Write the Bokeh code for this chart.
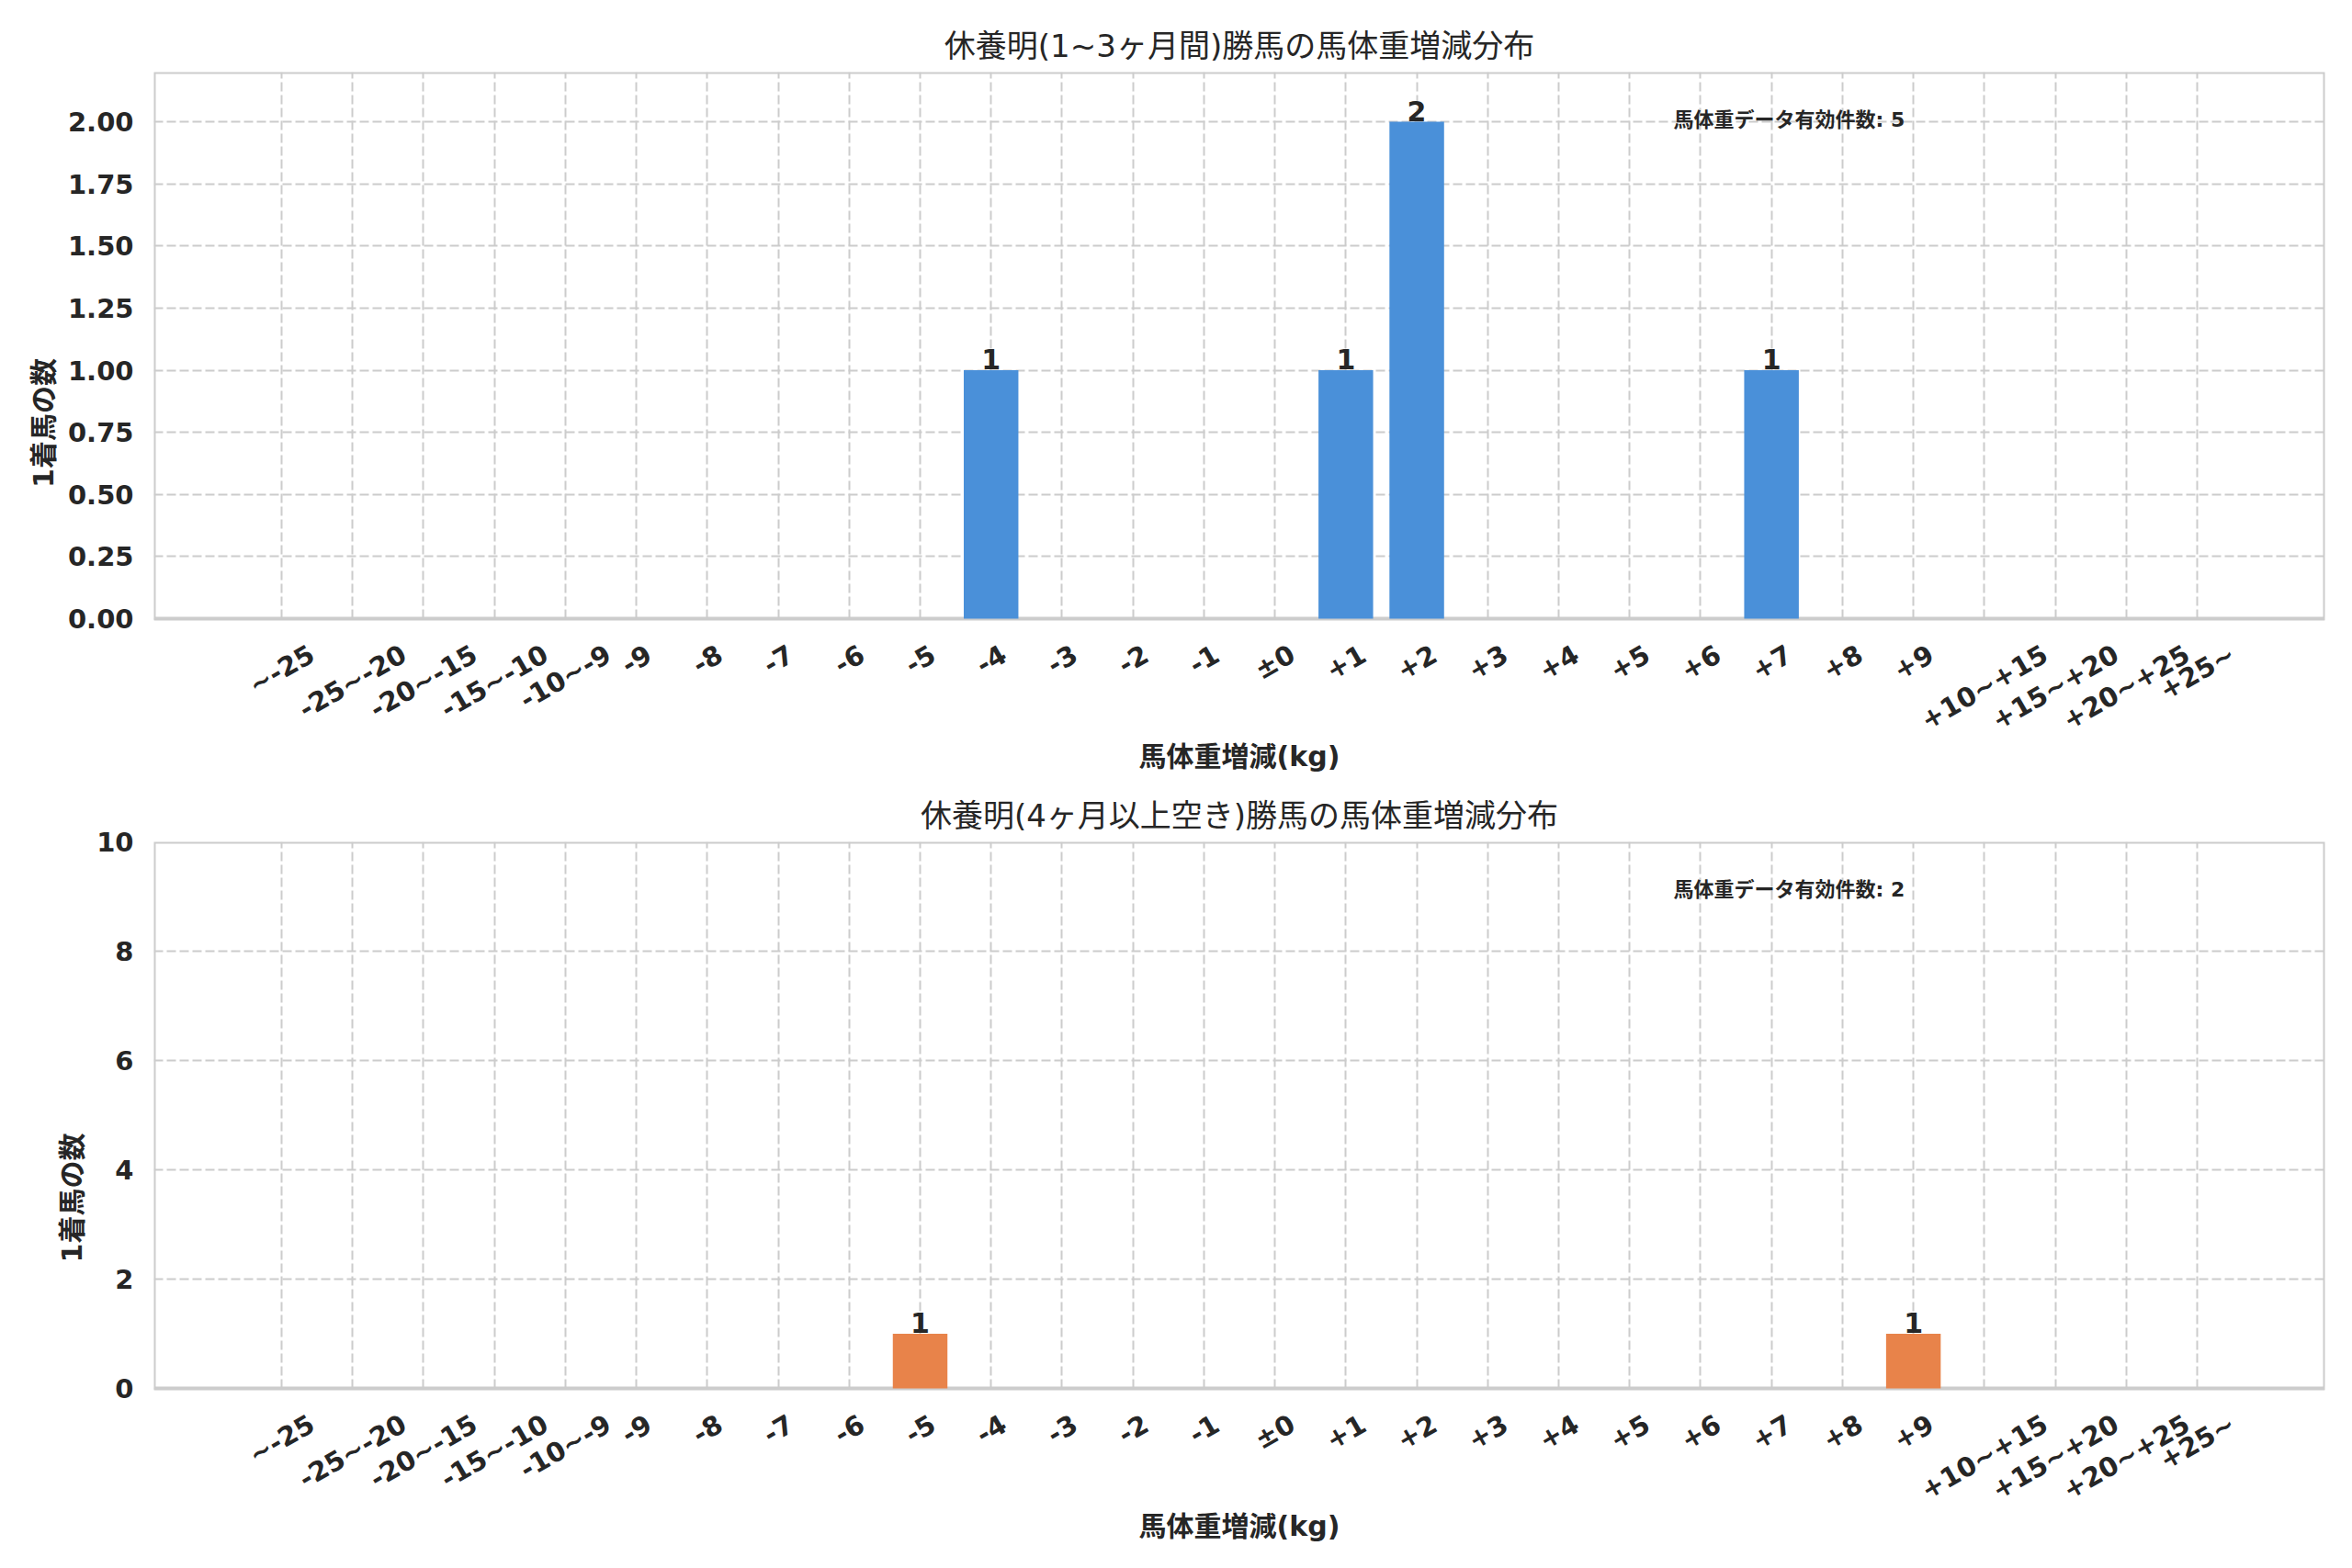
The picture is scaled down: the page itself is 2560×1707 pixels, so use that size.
import math
from bokeh.plotting import figure
from bokeh.models import (ColumnDataSource, LabelSet, Label, SingleIntervalTicker,
                          NumeralTickFormatter, Range1d, BoxAnnotation)
from bokeh.layouts import column
from bokeh.core.properties import value
from bokeh.embed import file_html
from bokeh.resources import INLINE

# ---------------- data ----------------
categories = ["~-25", "-25~-20", "-20~-15", "-15~-10", "-10~-9",
              "-9", "-8", "-7", "-6", "-5", "-4", "-3", "-2", "-1", "±0",
              "+1", "+2", "+3", "+4", "+5", "+6", "+7", "+8", "+9",
              "+10~+15", "+15~+20", "+20~+25", "+25~"]
counts_1to3 = [0, 0, 0, 0, 0, 0, 0, 0, 0, 0, 1, 0, 0, 0, 0,
               1, 2, 0, 0, 0, 0, 1, 0, 0, 0, 0, 0, 0]
counts_4plus = [0, 0, 0, 0, 0, 0, 0, 0, 0, 1, 0, 0, 0, 0, 0,
                0, 0, 0, 0, 0, 0, 0, 0, 1, 0, 0, 0, 0]
title_1to3 = "休養明(1~3ヶ月間)勝馬の馬体重増減分布"
title_4plus = "休養明(4ヶ月以上空き)勝馬の馬体重増減分布"
x_label = "馬体重増減(kg)"
y_label = "1着馬の数"
note_label = "馬体重データ有効件数"
color_1to3 = "#4a90d9"
color_4plus = "#e8834a"

# ---------------- style ----------------
FONT = "'DejaVu Sans', 'Noto Sans CJK JP', sans-serif"
DARK = "#262626"
GRID = "#cccccc"
TICK_FS = 29
PAD = 1.3
ANG = math.radians(30)
PLOT_PX = 595          # pixel height of the bar area
CHAR_W = {"+": 0.838, "-": 0.415, "~": 0.838, "±": 0.838}


def label_width(s):
    return sum(CHAR_W.get(c, 0.696) for c in s) * TICK_FS


def make_panel(title, counts, color, ymax, interval, fmt, height, top_b):
    ext_px = height - top_b - PLOT_PX          # room below the bar area for labels
    ystart = -ymax * ext_px / PLOT_PX
    n = len(categories)
    p = figure(x_range=categories, y_range=Range1d(ystart, ymax),
               width=2544, height=height, output_backend="svg",
               toolbar_location=None, min_border_left=167, min_border_right=14,
               min_border_top=top_b, min_border_bottom=0)
    p.x_range.range_padding = PAD
    p.x_range.range_padding_units = "absolute"
    p.background_fill_color = "white"
    p.border_fill_color = "white"
    p.outline_line_color = None

    p.title.text = title
    p.title.align = "center"
    p.title.text_font = FONT
    p.title.text_font_size = "34px"
    p.title.text_font_style = "normal"
    p.title.text_color = DARK
    p.title.standoff = 17

    # grids, limited to the bar area
    for g in (p.xgrid, p.ygrid):
        g.grid_line_color = GRID
        g.grid_line_width = 2
        g.grid_line_dash = "10 4"
    p.xgrid.cross_bounds = (0, ymax)
    p.ygrid.bounds = (0, ymax)

    # box round the bar area
    p.add_layout(BoxAnnotation(left=-PAD, right=n + PAD, bottom=0, top=ymax,
                               fill_color=None, fill_alpha=0,
                               line_color=GRID, line_alpha=1.0, line_width=4,
                               level="underlay"))

    src = ColumnDataSource(dict(cat=categories, count=counts))
    p.vbar(x="cat", top="count", width=0.77, source=src,
           fill_color=color, line_color=None)

    # y axis
    ax = p.yaxis
    ax.bounds = (0, ymax)
    ax.axis_line_color = None
    ax.major_tick_line_color = None
    ax.minor_tick_line_color = None
    ax.major_tick_out = 0
    ax.major_tick_in = 0
    ax.axis_label = y_label
    ax.axis_label_text_font = FONT
    ax.axis_label_text_font_size = "30px"
    ax.axis_label_text_font_style = "bold"
    ax.axis_label_text_color = DARK
    ax.axis_label_standoff = 6
    ax.major_label_text_font = FONT
    ax.major_label_text_font_style = "bold"
    ax.major_label_text_color = DARK
    ax.major_label_text_font_size = f"{TICK_FS}px"
    ax.major_label_standoff = 22
    ax.ticker = SingleIntervalTicker(interval=interval, num_minor_ticks=0)
    ax.formatter = NumeralTickFormatter(format=fmt)

    # x axis: its ticker still drives the grid; labels are drawn as rotated text
    p.xaxis.visible = False
    for i, s in enumerate(categories):
        yoff = -(27 + (label_width(s) * math.sin(ANG)
                       + 0.73 * TICK_FS * math.cos(ANG)) / 2)
        p.add_layout(Label(x=i + 0.5, y=0, y_offset=yoff, text=s, angle=ANG,
                           text_align="center", text_baseline="middle",
                           text_font=FONT, text_font_size=f"{TICK_FS}px",
                           text_font_style="bold", text_color=DARK))
    p.add_layout(Label(x=n / 2, y=0, y_offset=-150, text=x_label,
                       text_align="center", text_baseline="middle",
                       text_font=FONT, text_font_size="30px",
                       text_font_style="bold", text_color=DARK))

    # value labels on bars
    vc = [c for c, v in zip(categories, counts) if v > 0]
    vv = [v for v in counts if v > 0]
    vsrc = ColumnDataSource(dict(cat=vc, v=vv, t=[str(v) for v in vv]))
    p.add_layout(LabelSet(x="cat", y="v", text="t", source=vsrc, y_offset=1,
                          text_align="center", text_baseline="alphabetic",
                          text_font=value(FONT), text_font_size="30px",
                          text_font_style="bold", text_color=DARK))

    # total note
    start = -PAD
    end = n + PAD
    p.add_layout(Label(x=start + 0.70 * (end - start), y=ymax * 0.913,
                       text=f"{note_label}: {sum(counts)}",
                       text_align="left", text_baseline="middle",
                       text_font=FONT, text_font_size="22px",
                       text_font_style="bold", text_color=DARK))
    return p


p1 = make_panel(title_1to3, counts_1to3, color_1to3, 2.2, 0.25, "0.00", 842, 78)
p2 = make_panel(title_4plus, counts_4plus, color_4plus, 10, 2, "0", 849, 74)

layout = column(p1, p2, spacing=0)
with open("out.html", "w") as f:
    f.write(file_html(layout, INLINE))
